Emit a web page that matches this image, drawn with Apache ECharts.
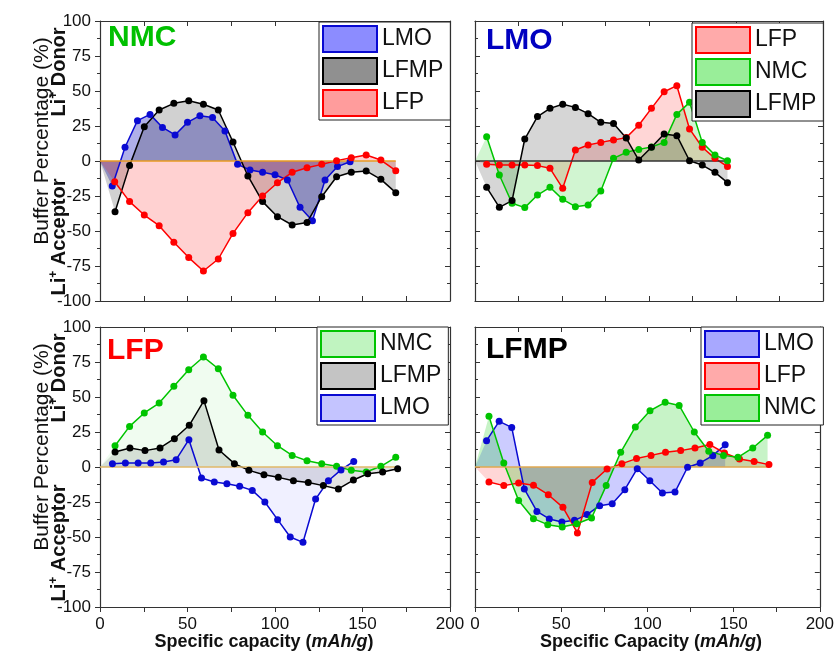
<!DOCTYPE html>
<html>
<head>
<meta charset="utf-8">
<script src="https://cdn.jsdelivr.net/npm/echarts@6/dist/echarts.min.js"></script>
<style>
html,body{margin:0;padding:0;background:#fff;}
#chart{width:837px;height:653px;}
</style>
</head>
<body>
<div id="chart"></div>
<script>
// ---------------- DATA ----------------
const xTicks = [0, 50, 100, 150, 200];
const yTicks = [-100, -75, -50, -25, 0, 25, 50, 75, 100];
const ORIGIN = [0, 0];

// Panel 1: NMC
const p1_x_LMO = [7.0,14.3,21.4,28.6,35.7,42.9,50.0,57.1,64.3,71.4,78.6,85.7,92.9,100.0,107.1,114.3,121.4,128.6,135.7,142.9];
const p1_LMO   = [-17.9,9.8,28.8,33.3,24.0,18.6,27.6,32.4,31.0,21.4,-2.4,-6.4,-8.1,-9.8,-13.6,-33.1,-42.6,-13.6,-4.0,-0.5];
const p1_x_LFMP = [8.6,16.9,25.3,33.8,42.2,50.7,59.1,67.6,76.0,84.5,92.9,101.4,109.8,118.3,126.7,135.2,143.6,152.1,160.5,169.0];
const p1_LFMP  = [-36.2,-3.3,24.5,36.4,41.2,43.1,40.5,36.4,13.6,-10.7,-29.0,-39.8,-45.7,-44.0,-25.5,-11.2,-8.1,-7.1,-13.1,-22.6];
const p1_x_LFP = [8.4,16.9,25.3,33.8,42.2,50.7,59.1,67.6,76.0,84.5,92.9,101.4,109.8,118.3,126.7,135.2,143.6,152.1,160.5,169.0];
const p1_LFP   = [-14.8,-29.0,-38.6,-46.2,-58.1,-69.0,-78.6,-70.0,-51.7,-36.9,-25.0,-15.5,-8.1,-4.8,-2.4,0.2,2.4,4.3,0.7,-6.9];

// Panel 2: LMO
const p2_x = [6.7,14.0,21.3,28.6,35.9,43.1,50.4,57.7,65.0,72.3,79.6,86.9,94.1,101.4,108.7,116.0,123.3,130.6,137.9,145.1];
const p2_LFP  = [-2.4,-2.9,-2.9,-2.9,-3.3,-5.2,-19.5,7.9,11.4,13.3,15.0,16.7,25.5,37.6,49.5,53.8,22.9,9.8,1.9,-4.0];
const p2_NMC  = [17.4,-10.0,-30.2,-33.3,-24.3,-18.8,-27.4,-32.6,-31.4,-21.4,1.9,6.2,8.3,10.0,13.3,33.3,41.9,13.3,4.3,0.2];
const p2_LFMP = [-18.8,-33.1,-28.3,15.7,31.7,37.6,40.5,38.3,33.8,27.6,26.7,16.4,0.7,9.8,19.3,18.1,0.2,-2.9,-8.1,-15.5];

// Panel 3: LFP
const p3_x_NMC = [8.6,16.9,25.3,33.8,42.2,50.7,59.1,67.6,76.0,84.5,92.9,101.4,109.8,118.3,126.7,135.2,143.6,152.1,160.5,169.0];
const p3_NMC   = [15.2,29.0,38.6,45.7,57.6,69.5,78.6,70.2,51.2,36.9,25.0,15.2,8.3,4.5,2.4,0.5,-2.4,-3.6,0.5,6.9];
const p3_x_LFMP = [8.6,17.1,25.7,34.3,42.5,51.0,59.4,68.0,76.8,85.1,93.7,101.9,110.5,119.0,127.6,136.2,144.8,153.0,161.5,170.1];
const p3_LFMP  = [10.7,13.6,11.7,13.6,20.2,29.8,47.4,12.1,2.4,-2.4,-5.5,-7.4,-9.8,-11.0,-13.3,-15.7,-9.3,-4.8,-3.6,-1.2];
const p3_x_LMO = [7.1,14.5,21.8,29.0,36.3,43.5,50.8,58.0,65.3,72.5,79.8,87.0,94.2,101.5,108.7,116.0,123.2,130.5,137.7,145.0];
const p3_LMO   = [2.4,2.9,2.9,2.9,3.6,5.2,19.5,-7.9,-10.7,-11.9,-13.8,-16.7,-25.0,-37.6,-50.0,-53.8,-22.9,-9.8,-2.1,4.0];

// Panel 4: LFMP
const p4_x_LMO = [6.7,14.0,21.3,28.6,35.9,43.1,50.4,57.7,65.0,72.3,79.6,86.9,94.1,101.4,108.7,116.0,123.3,130.6,137.9,145.1];
const p4_LMO   = [18.8,32.6,28.3,-15.7,-31.7,-37.1,-39.3,-38.1,-34.0,-27.6,-26.2,-16.2,-1.2,-9.8,-18.6,-17.9,-0.2,2.9,8.1,15.9];
const p4_x_LFP = [8.1,16.7,25.3,33.9,42.5,51.0,59.4,68.0,76.6,85.2,93.7,102.1,110.5,119.3,127.6,136.2,144.7,153.4,161.9,170.5];
const p4_LFP   = [-10.7,-13.3,-11.4,-13.1,-19.8,-28.8,-47.1,-11.0,-1.4,2.4,6.0,8.3,10.5,11.7,13.6,16.0,10.0,5.7,4.0,1.7];
const p4_x_NMC = [8.1,16.7,25.3,33.9,42.2,50.6,59.0,67.6,76.1,84.5,93.0,101.5,110.3,118.4,127.2,135.6,144.1,152.5,161.1,169.7];
const p4_NMC   = [36.2,2.9,-24.0,-36.9,-41.2,-42.9,-40.5,-36.4,-13.3,10.5,28.6,40.2,46.2,44.0,25.0,11.2,8.3,6.9,13.6,22.6];

// ---------------- STYLE ----------------
const FONT = '"Liberation Sans", Arial, sans-serif';
const C = { LMO: '#0a0ad2', LFMP: '#000000', LFP: '#ff0000', NMC: '#00c400' };

const grids = [
  { left: 100, top: 21, width: 350, height: 280 },
  { left: 475, top: 21, width: 348, height: 280 },
  { left: 100, top: 327, width: 350, height: 280 },
  { left: 475, top: 327, width: 348, height: 280 }
];

const panels = [
  { title: 'NMC', titleColor: '#00c000', tl: [108, 23], base: '#e89a20',
    legend: { left: 319, top: 22 },
    sets: [
      { name: 'LMO', x: p1_x_LMO, y: p1_LMO, fill: 'rgba(20,20,190,0.34)', sw: '#8c8cff' },
      { name: 'LFMP', x: p1_x_LFMP, y: p1_LFMP, fill: 'rgba(0,0,0,0.18)', sw: '#909090' },
      { name: 'LFP', x: p1_x_LFP, y: p1_LFP, fill: 'rgba(255,0,0,0.18)', sw: '#ff9c9c' }
    ] },
  { title: 'LMO', titleColor: '#0000c0', tl: [486, 26], base: '#333333',
    legend: { left: 692, top: 23 },
    sets: [
      { name: 'LFP', x: p2_x, y: p2_LFP, fill: 'rgba(255,0,0,0.16)', sw: '#ffaaaa' },
      { name: 'NMC', x: p2_x, y: p2_NMC, fill: 'rgba(0,200,0,0.18)', sw: '#99ee99' },
      { name: 'LFMP', x: p2_x, y: p2_LFMP, fill: 'rgba(0,0,0,0.16)', sw: '#999999' }
    ] },
  { title: 'LFP', titleColor: '#ff0000', tl: [107, 336], base: '#e0b868',
    legend: { left: 317, top: 327 },
    sets: [
      { name: 'NMC', x: p3_x_NMC, y: p3_NMC, fill: 'rgba(0,200,0,0.06)', sw: '#c0f4c0' },
      { name: 'LFMP', x: p3_x_LFMP, y: p3_LFMP, fill: 'rgba(0,0,0,0.11)', sw: '#c4c4c4' },
      { name: 'LMO', x: p3_x_LMO, y: p3_LMO, fill: 'rgba(0,0,255,0.06)', sw: '#c4c4ff' }
    ] },
  { title: 'LFMP', titleColor: '#000000', tl: [486, 335], base: '#e0a850',
    legend: { left: 701, top: 327 },
    sets: [
      { name: 'LMO', x: p4_x_LMO, y: p4_LMO, fill: 'rgba(0,0,255,0.2)', sw: '#a8a8ff' },
      { name: 'LFP', x: p4_x_LFP, y: p4_LFP, fill: 'rgba(255,0,0,0.16)', sw: '#ffaaaa' },
      { name: 'NMC', x: p4_x_NMC, y: p4_NMC, fill: 'rgba(0,200,0,0.22)', sw: '#99ee99' }
    ] }
];

const AX = '#333';
const xAxis = [], yAxis = [], series = [], legend = [], graphic = [];

grids.forEach((g, i) => {
  const isBottom = i >= 2, isLeft = i % 2 === 0;
  xAxis.push({
    gridIndex: i, type: 'value', min: 0, max: 200, interval: 25, position: 'bottom',
    axisLine: { show: true, onZero: false, lineStyle: { color: AX, width: 1.2 } },
    axisTick: { show: true, inside: !isBottom, length: 5, lineStyle: { color: AX } },
    axisLabel: { show: isBottom, fontSize: 17, color: '#111', fontFamily: FONT, margin: 9,
      formatter: v => xTicks.includes(v) ? String(v) : '' },
    splitLine: { show: false }
  });
  xAxis.push({
    gridIndex: i, type: 'value', min: 0, max: 200, interval: 25, position: 'top',
    axisLine: { show: true, onZero: false, lineStyle: { color: AX, width: 1.2 } },
    axisTick: { show: true, inside: true, length: 5, lineStyle: { color: AX } },
    axisLabel: { show: false }, splitLine: { show: false }
  });
  yAxis.push({
    gridIndex: i, type: 'value', min: -100, max: 100, interval: 25, position: 'left',
    axisLine: { show: true, onZero: false, lineStyle: { color: AX, width: 1.2 } },
    axisTick: { show: true, inside: !isLeft, length: 5, lineStyle: { color: AX } },
    minorTick: { show: true, splitNumber: 2, length: 3, lineStyle: { color: AX } },
    axisLabel: { show: isLeft, fontSize: 17, color: '#111', fontFamily: FONT, margin: 9,
      formatter: v => yTicks.includes(v) ? String(v) : '' },
    splitLine: { show: false }
  });
  yAxis.push({
    gridIndex: i, type: 'value', min: -100, max: 100, interval: 25, position: 'right',
    axisLine: { show: true, onZero: false, lineStyle: { color: AX, width: 1.2 } },
    axisTick: { show: true, inside: true, length: 5, lineStyle: { color: AX } },
    minorTick: { show: true, splitNumber: 2, length: 3, lineStyle: { color: AX } },
    axisLabel: { show: false }, splitLine: { show: false }
  });
});

panels.forEach((p, i) => {
  const key = 'P' + (i + 1) + '|';
  let maxX = 0;
  p.sets.forEach(s => {
    const pts = s.x.map((x, k) => [x, s.y[k]]);
    maxX = Math.max(maxX, ...s.x);
    series.push({
      name: key + s.name, type: 'line', xAxisIndex: 2 * i, yAxisIndex: 2 * i,
      data: [ORIGIN].concat(pts), symbol: 'none', showSymbol: false,
      lineStyle: { width: 0, opacity: 0 },
      areaStyle: { color: s.fill, opacity: 1, origin: 'auto' },
      silent: true, animation: false
    });
    series.push({
      name: key + s.name, type: 'line', xAxisIndex: 2 * i, yAxisIndex: 2 * i,
      data: pts, symbol: 'circle', symbolSize: 7, showSymbol: true,
      lineStyle: { color: C[s.name], width: 1.5 },
      itemStyle: { color: C[s.name] },
      silent: true, animation: false
    });
  });
  series.push({
    name: key + 'baseline', type: 'line', xAxisIndex: 2 * i, yAxisIndex: 2 * i,
    data: [ORIGIN, [maxX, 0]], symbol: 'none',
    lineStyle: { color: p.base, width: 1.5 }, silent: true, animation: false
  });
  legend.push({
    left: p.legend.left, top: p.legend.top, orient: 'vertical',
    itemWidth: 54, itemHeight: 26, itemGap: 4, padding: [3, 7, 3, 3],
    backgroundColor: '#fff', borderColor: '#222', borderWidth: 1, borderRadius: 0,
    selectedMode: false,
    textStyle: { fontSize: 23, color: '#111', fontFamily: FONT },
    formatter: n => n.split('|')[1],
    data: p.sets.map(s => ({ name: key + s.name, icon: 'rect',
      itemStyle: { color: s.sw, borderColor: C[s.name], borderWidth: 2 } }))
  });
  graphic.push({
    type: 'text', left: p.tl[0], top: p.tl[1], z: 100,
    style: { text: p.title, fill: p.titleColor, font: 'bold 30px ' + FONT }
  });
});

// Axis titles
[0, 306].forEach(dy => {
  graphic.push({
    type: 'text', x: 42, y: 141 + dy, rotation: Math.PI / 2,
    style: { text: 'Buffer Percentage (%)', font: '21px ' + FONT, fill: '#111',
      align: 'center', verticalAlign: 'middle' }
  });
  const rich = {
    b: { font: 'bold 20px ' + FONT, fill: '#111', lineHeight: 22 },
    s: { font: 'bold 12px ' + FONT, fill: '#111', lineHeight: 12, verticalAlign: 'top' }
  };
  graphic.push({
    type: 'text', x: 59, y: 72 + dy, rotation: Math.PI / 2,
    style: { text: '{b|Li}{s|+}{b| Donor}', rich: rich, align: 'center', verticalAlign: 'middle' }
  });
  graphic.push({
    type: 'text', x: 59, y: 237 + dy, rotation: Math.PI / 2,
    style: { text: '{b|Li}{s|+}{b| Acceptor}', rich: rich, align: 'center', verticalAlign: 'middle' }
  });
});
const xrich = {
  b: { font: 'bold 18px ' + FONT, fill: '#111' },
  i: { font: 'italic bold 18px ' + FONT, fill: '#111' }
};
graphic.push({
  type: 'text', x: 264, y: 642,
  style: { text: '{b|Specific capacity (}{i|mAh/g}{b|)}', rich: xrich, align: 'center', verticalAlign: 'middle' }
});
graphic.push({
  type: 'text', x: 651, y: 642,
  style: { text: '{b|Specific Capacity (}{i|mAh/g}{b|)}', rich: xrich, align: 'center', verticalAlign: 'middle' }
});

const chart = echarts.init(document.getElementById('chart'), null, { renderer: 'canvas' });
chart.setOption({
  backgroundColor: '#fff',
  animation: false,
  textStyle: { fontFamily: FONT },
  grid: grids,
  xAxis: xAxis,
  yAxis: yAxis,
  legend: legend,
  series: series,
  graphic: graphic
});
</script>
</body>
</html>
